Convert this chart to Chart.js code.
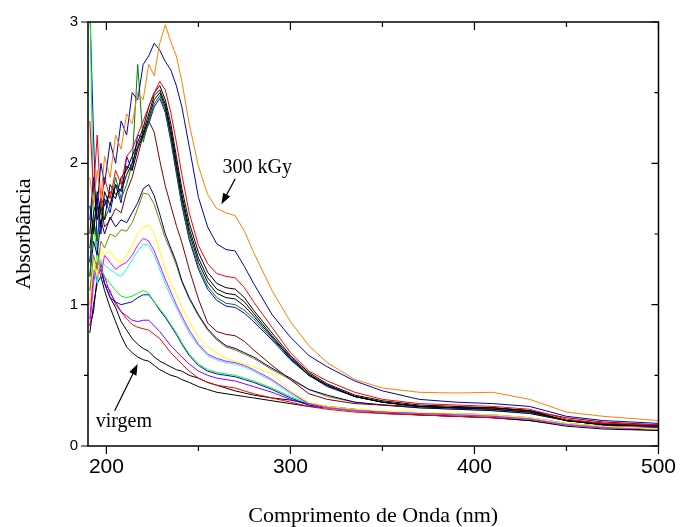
<!DOCTYPE html>
<html>
<head>
<meta charset="utf-8">
<script src="https://cdn.jsdelivr.net/npm/chart.js@4/dist/chart.umd.min.js"></script>
<style>
  html, body { margin: 0; padding: 0; background: #fff; }
  canvas { display: block; }
</style>
</head>
<body>
<canvas id="chart" width="685" height="527"></canvas>
<script>
// wavelengths (nm) shared by all spectra
const wavelengths = [191,193,195,197,199,202,205,208,211,214,217,220,223,226,229,232,235,238,241,245,250,255,260,265,270,275,280,290,300,310,320,335,350,370,390,410,430,450,470,500];

// absorbance of each spectrum, top (300 kGy) to bottom (virgem)
const dose300 = [1.90,1.70,1.95,1.75,2.05,1.90,2.20,2.10,2.35,2.28,2.50,2.45,2.70,2.62,2.85,2.98,2.86,2.76,2.58,2.28,1.98,1.78,1.68,1.65,1.63,1.52,1.37,1.10,0.88,0.71,0.59,0.47,0.41,0.38,0.375,0.38,0.33,0.24,0.21,0.18];
const royal = [1.60,1.90,1.70,2.00,1.85,2.15,2.00,2.30,2.20,2.50,2.45,2.70,2.76,2.85,2.80,2.72,2.66,2.55,2.40,2.12,1.76,1.55,1.43,1.39,1.38,1.27,1.15,0.93,0.77,0.64,0.56,0.46,0.39,0.33,0.31,0.30,0.28,0.21,0.18,0.16];
const red1 = [2.30,1.80,2.20,1.70,1.90,1.75,1.95,1.85,2.05,2.10,2.20,2.30,2.40,2.50,2.58,2.52,2.36,2.15,1.92,1.65,1.42,1.29,1.22,1.20,1.19,1.12,1.02,0.84,0.66,0.53,0.46,0.38,0.33,0.30,0.29,0.28,0.26,0.19,0.16,0.15];
const black1 = [1.50,1.85,1.60,1.75,1.70,1.80,1.75,1.90,1.95,2.05,2.15,2.25,2.40,2.50,2.55,2.45,2.28,2.05,1.82,1.58,1.37,1.23,1.15,1.12,1.11,1.05,0.96,0.80,0.64,0.52,0.44,0.36,0.32,0.29,0.28,0.27,0.25,0.18,0.16,0.14];
const black2 = [1.40,1.65,1.75,1.55,1.80,1.70,1.85,1.80,1.92,2.00,2.12,2.22,2.35,2.48,2.52,2.42,2.24,2.01,1.78,1.54,1.33,1.19,1.11,1.08,1.07,1.02,0.94,0.78,0.63,0.51,0.43,0.35,0.31,0.28,0.27,0.27,0.25,0.18,0.15,0.14];
const black3 = [1.70,1.50,1.80,1.65,1.60,1.85,1.78,1.82,1.98,1.95,2.10,2.20,2.32,2.45,2.50,2.40,2.21,1.98,1.75,1.51,1.30,1.16,1.08,1.05,1.04,0.99,0.92,0.77,0.62,0.50,0.43,0.35,0.31,0.28,0.27,0.26,0.24,0.18,0.15,0.14];
const green1 = [1.20,1.60,1.45,1.75,1.60,1.70,1.90,1.75,1.85,2.00,2.70,2.15,2.30,2.42,2.48,2.38,2.18,1.95,1.72,1.48,1.27,1.13,1.05,1.01,1.00,0.96,0.90,0.76,0.62,0.50,0.43,0.35,0.31,0.28,0.27,0.26,0.24,0.18,0.15,0.14];
const blue1 = [1.30,1.55,1.70,1.50,1.75,1.65,1.85,1.72,2.05,1.95,2.20,2.18,2.28,2.40,2.46,2.36,2.16,1.93,1.70,1.46,1.25,1.11,1.03,0.99,0.98,0.94,0.88,0.75,0.61,0.50,0.42,0.35,0.31,0.28,0.27,0.26,0.24,0.18,0.15,0.14];
const wine = [1.30,1.60,1.45,1.70,1.55,1.60,1.68,1.65,1.80,1.90,2.05,2.20,2.30,2.22,2.02,1.84,1.70,1.56,1.44,1.25,1.04,0.87,0.81,0.79,0.78,0.74,0.68,0.57,0.47,0.37,0.33,0.30,0.29,0.28,0.27,0.27,0.25,0.20,0.17,0.15];
const navy = [1.20,1.45,1.35,1.60,1.50,1.62,1.55,1.60,1.58,1.65,1.72,1.82,1.85,1.77,1.64,1.50,1.40,1.30,1.17,1.05,0.93,0.83,0.76,0.71,0.69,0.66,0.63,0.55,0.48,0.40,0.36,0.31,0.29,0.27,0.26,0.25,0.23,0.18,0.16,0.14];
const olive = [1.10,1.35,1.25,1.45,1.40,1.50,1.48,1.53,1.52,1.58,1.68,1.79,1.78,1.71,1.59,1.47,1.38,1.28,1.16,1.04,0.92,0.82,0.75,0.70,0.68,0.65,0.62,0.54,0.47,0.40,0.35,0.31,0.29,0.27,0.26,0.25,0.23,0.18,0.15,0.14];
const yellow = [1.00,1.30,1.20,1.40,1.35,1.38,1.32,1.30,1.35,1.42,1.50,1.55,1.56,1.50,1.38,1.25,1.15,1.07,0.98,0.88,0.77,0.70,0.66,0.62,0.60,0.58,0.56,0.51,0.39,0.31,0.28,0.26,0.25,0.24,0.23,0.22,0.20,0.16,0.14,0.12];
const magenta = [0.85,1.15,1.30,1.20,1.35,1.30,1.25,1.28,1.30,1.35,1.42,1.47,1.45,1.38,1.28,1.18,1.09,1.00,0.92,0.82,0.72,0.65,0.62,0.60,0.59,0.57,0.54,0.47,0.38,0.30,0.27,0.25,0.24,0.23,0.22,0.21,0.19,0.15,0.13,0.12];
const cyan = [1.10,1.25,1.15,1.32,1.28,1.25,1.22,1.20,1.25,1.32,1.38,1.43,1.42,1.35,1.25,1.15,1.06,0.98,0.90,0.80,0.71,0.64,0.61,0.59,0.58,0.56,0.53,0.46,0.37,0.30,0.27,0.25,0.24,0.23,0.22,0.21,0.19,0.15,0.13,0.12];
const green2 = [3.20,1.60,1.30,1.25,1.20,1.15,1.10,1.06,1.05,1.06,1.08,1.10,1.08,1.02,0.97,0.92,0.86,0.80,0.73,0.65,0.58,0.54,0.52,0.51,0.50,0.48,0.46,0.41,0.35,0.30,0.27,0.25,0.24,0.23,0.22,0.21,0.19,0.15,0.13,0.12];
const blue2 = [3.10,2.20,1.40,1.25,1.15,1.05,1.02,1.00,1.01,1.02,1.05,1.07,1.07,1.02,0.96,0.91,0.85,0.79,0.72,0.64,0.57,0.53,0.51,0.50,0.49,0.47,0.45,0.40,0.34,0.29,0.27,0.25,0.24,0.23,0.22,0.21,0.19,0.15,0.13,0.12];
const purple = [0.90,1.20,1.30,1.25,1.20,1.08,1.02,0.95,0.92,0.89,0.88,0.89,0.89,0.85,0.81,0.76,0.71,0.67,0.63,0.58,0.53,0.50,0.48,0.47,0.46,0.44,0.42,0.38,0.33,0.29,0.27,0.25,0.24,0.23,0.23,0.22,0.20,0.16,0.14,0.13];
const red2 = [1.00,1.25,1.20,1.30,1.15,1.10,1.00,0.95,0.90,0.86,0.84,0.83,0.82,0.79,0.76,0.71,0.66,0.62,0.58,0.53,0.48,0.45,0.43,0.42,0.41,0.39,0.37,0.34,0.31,0.28,0.26,0.24,0.23,0.22,0.21,0.20,0.19,0.15,0.13,0.12];
const virgemA = [0.85,0.95,1.20,1.25,1.15,1.05,0.98,0.88,0.82,0.76,0.72,0.69,0.67,0.63,0.60,0.58,0.56,0.54,0.53,0.50,0.48,0.45,0.43,0.41,0.39,0.375,0.36,0.34,0.325,0.30,0.28,0.26,0.24,0.22,0.21,0.20,0.18,0.15,0.13,0.11];
const virgem = [0.80,1.00,1.15,1.20,1.10,0.98,0.88,0.78,0.70,0.66,0.63,0.61,0.60,0.57,0.54,0.52,0.50,0.49,0.47,0.45,0.42,0.40,0.38,0.37,0.36,0.35,0.34,0.32,0.30,0.28,0.27,0.25,0.23,0.22,0.21,0.20,0.18,0.14,0.12,0.11];

const xMajor = [200, 300, 400, 500];
const xMinor = [250, 350, 450];
const yMajor = [0, 1, 2, 3];
const yMinor = [0.5, 1.5, 2.5];

const series = [
  [dose300, '#ff8000'], [royal, '#0000b4'], [red1, '#ff0000'], [black1, '#000000'],
  [black2, '#000000'], [black3, '#000000'], [green1, '#008000'], [blue1, '#0000ff'],
  [wine, '#800000'], [navy, '#000080'], [olive, '#808000'], [yellow, '#ffff00'],
  [magenta, '#ff00ff'], [cyan, '#00ffff'], [green2, '#00ff00'], [blue2, '#0000ff'],
  [purple, '#8000ff'], [red2, '#ff0000'], [virgemA, '#000000'], [virgem, '#000000']
];

const datasets = series.map(([vals, color]) => ({
  data: wavelengths.map((w, i) => ({ x: w, y: vals[i] })),
  borderColor: color,
  borderWidth: 1,
  pointRadius: 0,
  tension: 0,
  fill: false
}));

// text + arrows, placed in data units
const notes = [
  { text: '300 kGy', tx: 282, ty: 1.97, from: [270, 1.89], to: [262.5, 1.71] },
  { text: 'virgem', tx: 209.5, ty: 0.17, from: [204.5, 0.25], to: [217, 0.58] }
];

const frameTicks = {
  id: 'frameTicks',
  afterDraw(chart) {
    const { ctx, chartArea: a, scales: { x, y } } = chart;
    ctx.save();
    ctx.strokeStyle = '#000';
    ctx.lineWidth = 1.5;
    ctx.strokeRect(a.left, a.top, a.right - a.left, a.bottom - a.top);
    ctx.lineWidth = 1.2;
    ctx.beginPath();
    const xt = (v, len) => {
      const p = x.getPixelForValue(v);
      ctx.moveTo(p, a.bottom); ctx.lineTo(p, a.bottom + len);
      ctx.moveTo(p, a.top); ctx.lineTo(p, a.top + len);
    };
    const yt = (v, len) => {
      const p = y.getPixelForValue(v);
      ctx.moveTo(a.left, p); ctx.lineTo(a.left - len, p);
      ctx.moveTo(a.right, p); ctx.lineTo(a.right - len, p);
    };
    xMajor.forEach(v => xt(v, 8));
    xMinor.forEach(v => xt(v, 5));
    yMajor.forEach(v => yt(v, 7));
    yMinor.forEach(v => yt(v, 4));
    ctx.stroke();

    ctx.fillStyle = '#000';
    ctx.font = '20px "Liberation Serif", "Times New Roman", serif';
    ctx.textAlign = 'center';
    ctx.textBaseline = 'middle';
    notes.forEach(n => {
      ctx.fillText(n.text, x.getPixelForValue(n.tx), y.getPixelForValue(n.ty));
      const x0 = x.getPixelForValue(n.from[0]), y0 = y.getPixelForValue(n.from[1]);
      const x1 = x.getPixelForValue(n.to[0]), y1 = y.getPixelForValue(n.to[1]);
      const ang = Math.atan2(y1 - y0, x1 - x0);
      ctx.beginPath();
      ctx.moveTo(x0, y0);
      ctx.lineTo(x1 - 8 * Math.cos(ang), y1 - 8 * Math.sin(ang));
      ctx.stroke();
      ctx.beginPath();
      ctx.moveTo(x1, y1);
      ctx.lineTo(x1 - 11 * Math.cos(ang) + 4 * Math.sin(ang), y1 - 11 * Math.sin(ang) - 4 * Math.cos(ang));
      ctx.lineTo(x1 - 11 * Math.cos(ang) - 4 * Math.sin(ang), y1 - 11 * Math.sin(ang) + 4 * Math.cos(ang));
      ctx.closePath();
      ctx.fill();
    });
    ctx.restore();
  }
};

new Chart(document.getElementById('chart'), {
  type: 'line',
  data: { datasets },
  options: {
    responsive: false,
    animation: false,
    layout: { padding: { top: 22, right: 21, left: 0, bottom: 0 } },
    plugins: { legend: { display: false }, tooltip: { enabled: false } },
    scales: {
      x: {
        type: 'linear',
        min: 190,
        max: 500,
        afterBuildTicks: (scale) => { scale.ticks = xMajor.map(v => ({ value: v })); },
        afterFit: (scale) => { scale.height = 81; },
        grid: { display: false, drawTicks: false },
        border: { display: false },
        ticks: { color: '#000', padding: 9, maxRotation: 0,
          font: { family: '"Liberation Sans", Arial, sans-serif', size: 21 } },
        title: { display: true, text: 'Comprimento de Onda (nm)', color: '#000',
          padding: { top: 0, bottom: 0 },
          font: { family: '"Liberation Serif", "Times New Roman", serif', size: 22, lineHeight: 1 } }
      },
      y: {
        min: 0,
        max: 3,
        afterBuildTicks: (scale) => { scale.ticks = yMajor.map(v => ({ value: v })); },
        afterFit: (scale) => { scale.width = 88; },
        grid: { display: false, drawTicks: false },
        border: { display: false },
        ticks: { color: '#000', padding: 10,
          font: { family: '"Liberation Sans", Arial, sans-serif', size: 15 } },
        title: { display: true, text: 'Absorbância', color: '#000',
          padding: { top: 13, bottom: 0 },
          font: { family: '"Liberation Serif", "Times New Roman", serif', size: 22, lineHeight: 1 } }
      }
    }
  },
  plugins: [frameTicks]
});
</script>
</body>
</html>
